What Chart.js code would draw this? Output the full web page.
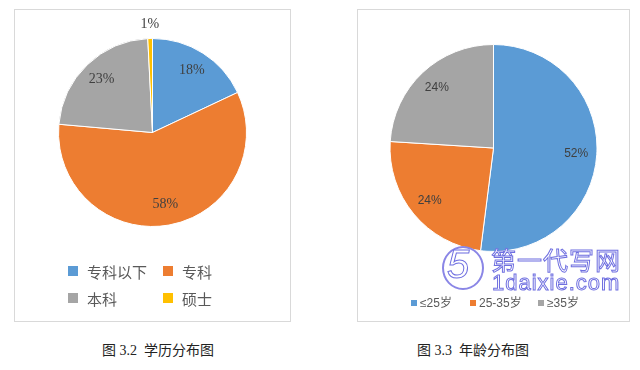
<!DOCTYPE html>
<html>
<head>
<meta charset="utf-8">
<script src="https://cdn.jsdelivr.net/npm/chart.js@4/dist/chart.umd.min.js"></script>
<style>
  html, body { margin: 0; padding: 0; background: #fff; }
  body { width: 640px; height: 370px; position: relative; overflow: hidden; }
  .box { position: absolute; border: 1px solid #d9d9d9; box-sizing: border-box; background: #fff; }
  .cap { position: absolute; font-family: "Liberation Serif", "Noto Sans CJK SC", serif; font-size: 14px; color: #222; white-space: nowrap; transform: translateX(-50%); }
  .wm { position: absolute; color: #fff; -webkit-text-stroke: 1px #6f6fe0; font-family: "Noto Sans CJK SC", sans-serif; white-space: nowrap; pointer-events: none; }
  .logo { position: absolute; left: 442px; top: 246px; width: 42px; height: 44px; border-radius: 50%; border: 2px solid #8a86e6; box-sizing: border-box; background: rgba(255,255,255,0.85); }
</style>
</head>
<body>
<div class="box" id="boxL" style="left:14px; top:9px; width:277px; height:313px;"><canvas id="cL"></canvas></div>
<div class="box" id="boxR" style="left:357px; top:9px; width:273px; height:313px;"><canvas id="cR"></canvas></div>
<div class="cap" style="left:158px; top:339px;">图 3.2&nbsp; 学历分布图</div>
<div class="cap" style="left:473px; top:339px;">图 3.3&nbsp; 年龄分布图</div>
<div class="logo"></div>
<div class="wm" style="left:447px; top:242px; font-size:40px; font-family:'Liberation Sans',sans-serif; font-style:italic;">5</div>
<div class="wm" style="left:491px; top:241px; font-size:25px; letter-spacing:1px;">第一代写网</div>
<div class="wm" style="left:492px; top:270px; font-size:22px; font-family:'Liberation Sans',sans-serif; letter-spacing:1px;">1daixie.com</div>
<script>
// ---- data ----
const eduLabels = ['专科以下', '专科', '本科', '硕士'];
const eduValues = [18, 58.4, 22.8, 0.8];
const ageLabels = ['≤25岁', '25-35岁', '≥35岁'];
const ageValues = [52, 24, 24];

const eduColors = ['#5B9BD5', '#ED7D31', '#A5A5A5', '#FFC000'];
const ageColors = ['#5B9BD5', '#ED7D31', '#A5A5A5'];

const pctLabels = {
  id: 'pctLabels',
  afterDatasetsDraw(chart, args, opts) {
    const ctx = chart.ctx;
    const ds = chart.data.datasets[0];
    const total = ds.data.reduce((a, b) => a + b, 0);
    const meta = chart.getDatasetMeta(0);
    ctx.save();
    ctx.font = opts.font;
    ctx.fillStyle = opts.color;
    ctx.textAlign = 'center';
    ctx.textBaseline = 'middle';
    meta.data.forEach((arc, i) => {
      const p = arc.getProps(['x', 'y', 'startAngle', 'endAngle', 'outerRadius'], true);
      const mid = (p.startAngle + p.endAngle) / 2;
      const frac = ds.data[i] / total;
      const r = frac < 0.03 ? p.outerRadius + 14 : p.outerRadius * opts.factor;
      ctx.fillText(Math.round(frac * 100) + '%', p.x + Math.cos(mid) * r, p.y + Math.sin(mid) * r);
    });
    ctx.restore();
  }
};

const customLegend = {
  id: 'customLegend',
  afterDraw(chart, args, opts) {
    const ctx = chart.ctx;
    const labels = chart.data.labels;
    const colors = chart.data.datasets[0].backgroundColor;
    ctx.save();
    ctx.font = opts.font;
    ctx.textBaseline = 'middle';
    ctx.textAlign = 'left';
    labels.forEach((lab, i) => {
      const pos = opts.positions[i];
      ctx.fillStyle = colors[i];
      ctx.fillRect(pos[0], pos[1] - opts.box / 2, opts.box, opts.box);
      ctx.fillStyle = opts.color;
      ctx.fillText(lab, pos[0] + opts.box + opts.gap, pos[1] + 1);
    });
    ctx.restore();
  }
};

function makePie(id, labels, values, colors, padding, labelOpts, legendOpts) {
  return new Chart(document.getElementById(id), {
    type: 'pie',
    data: {
      labels: labels,
      datasets: [{ data: values, backgroundColor: colors, borderColor: '#ffffff', borderWidth: 1 }]
    },
    options: {
      responsive: true,
      maintainAspectRatio: false,
      animation: false,
      layout: { padding: padding },
      plugins: {
        legend: { display: false },
        tooltip: { enabled: false },
        pctLabels: labelOpts,
        customLegend: legendOpts
      }
    },
    plugins: [pctLabels, customLegend]
  });
}

makePie('cL', eduLabels, eduValues, eduColors,
  { top: 28, bottom: 94, left: 0, right: 0 },
  { font: '14px "Liberation Serif", serif', color: '#404040', factor: 0.78 },
  { font: '15px "Noto Sans CJK SC", sans-serif', color: '#595959', box: 10, gap: 9,
    positions: [[53, 261], [148, 261], [53, 288], [148, 288]] });

makePie('cR', ageLabels, ageValues, ageColors,
  { top: 34, bottom: 69, left: 0, right: 0 },
  { font: '12px "Liberation Sans", sans-serif', color: '#404040', factor: 0.8 },
  { font: '12px "Liberation Sans", "Noto Sans CJK SC", sans-serif', color: '#595959', box: 6, gap: 3,
    positions: [[53, 293], [112, 293], [180, 293]] });
</script>
</body>
</html>
